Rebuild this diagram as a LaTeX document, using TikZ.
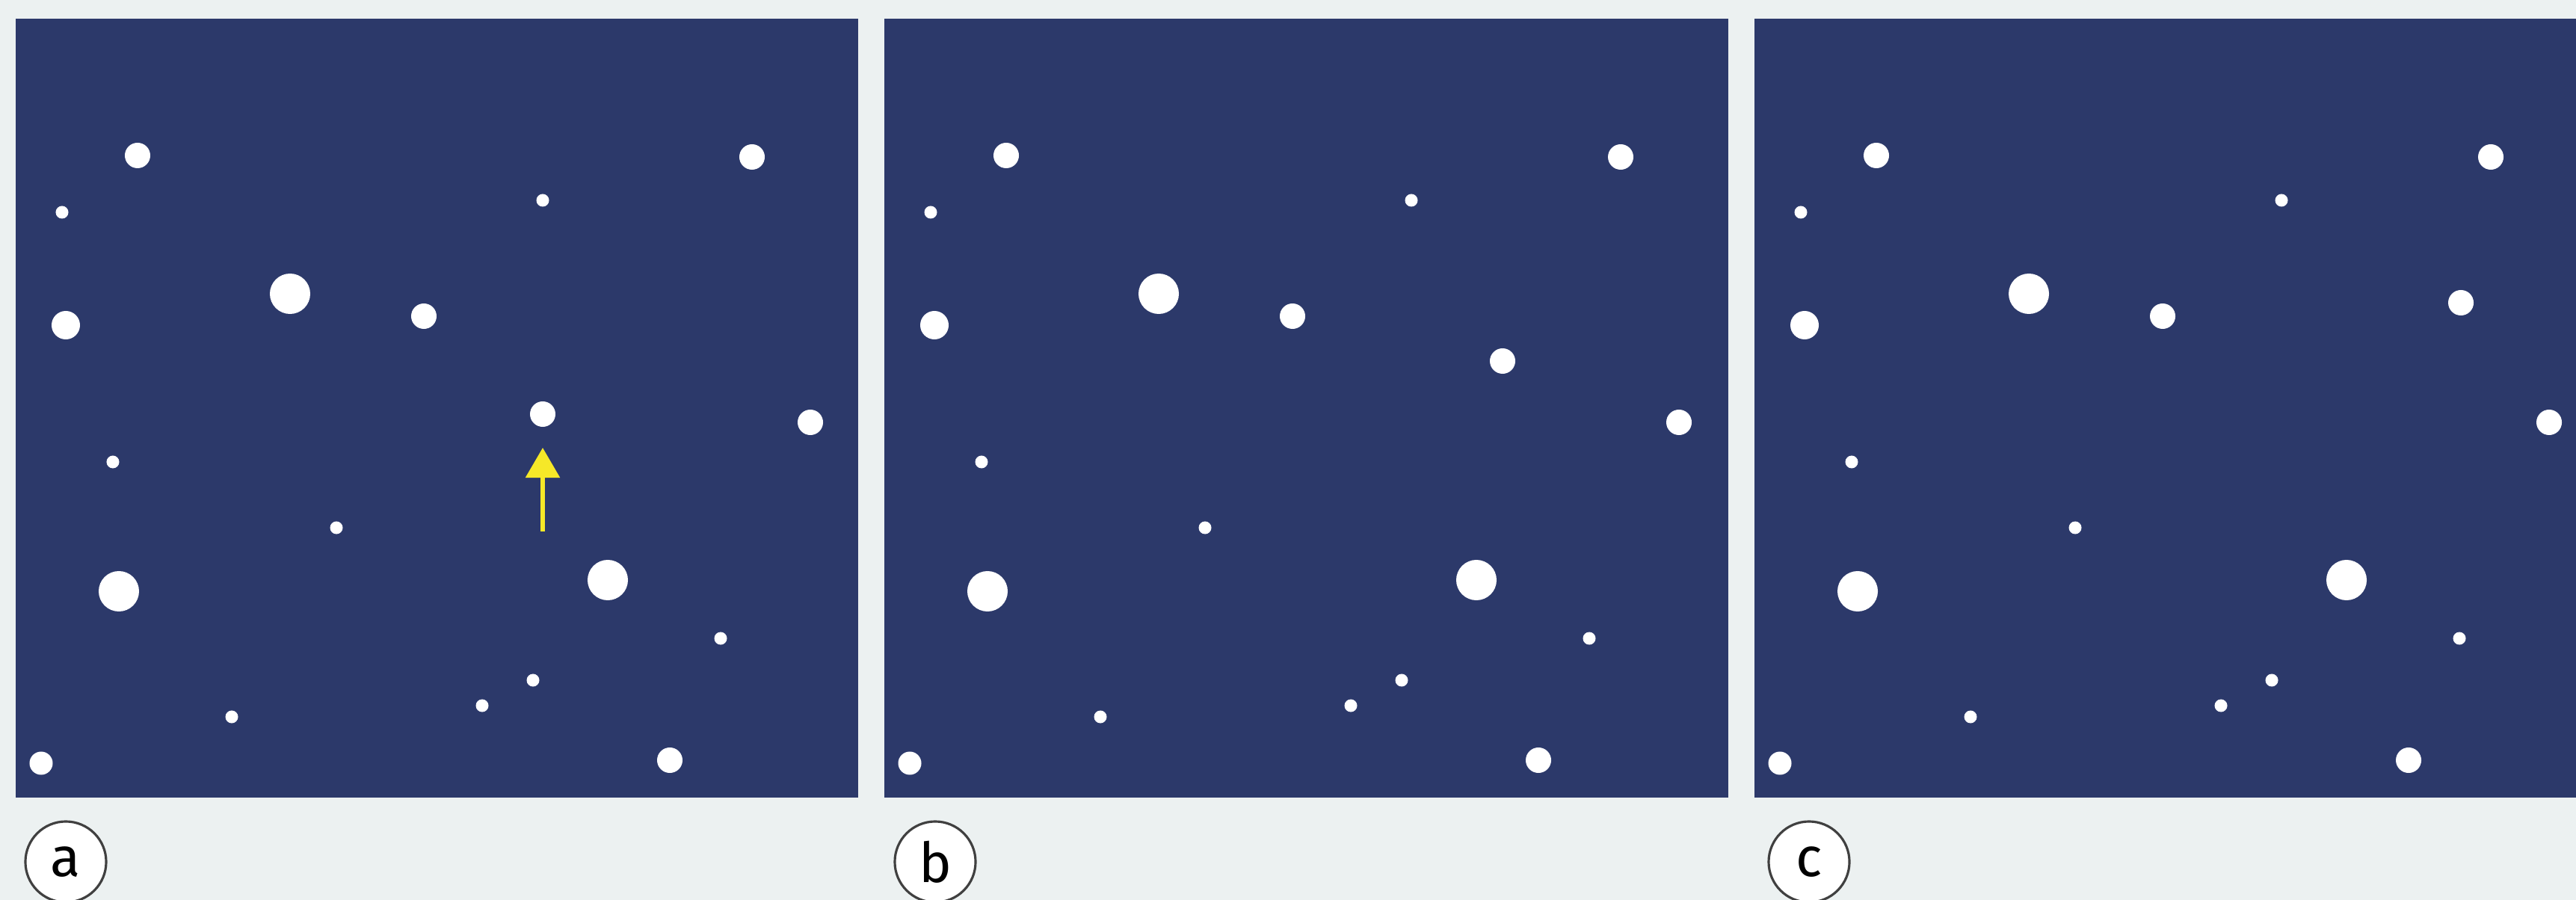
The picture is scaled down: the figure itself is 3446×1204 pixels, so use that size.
\documentclass[tikz,border=0pt]{standalone}
\usepackage{fontspec}
\setsansfont{Fira Sans}
\usetikzlibrary{arrows.meta}

\definecolor{PageGray}{RGB}{236,241,241}
\definecolor{PanelBlue}{RGB}{44,57,106}
\definecolor{ArrowYellow}{RGB}{246,232,40}

\begin{document}
\begin{tikzpicture}[
  x=0.01cm, y=-0.01cm,
  font=\sffamily,
  DotS/.style={circle, fill=white, inner sep=0pt, minimum size=0.17cm},
  DotM/.style={circle, fill=white, inner sep=0pt, minimum size=0.34cm},
  DotL/.style={circle, fill=white, inner sep=0pt, minimum size=0.54cm},
  PanelLabel/.style={circle, draw=black!75, line width=0.9pt, fill=white,
                     minimum size=1.08cm, inner sep=0pt,
                     font=\fontsize{21}{24}\selectfont\sffamily},
  YellowArrow/.style={draw=ArrowYellow, line width=1.6pt,
                      -{Triangle[length=0.4cm, width=0.45cm]}},
  ]
\fill [PageGray] (0,0) rectangle (3446,1204);
\useasboundingbox (0,0) rectangle (3446,1204);

% the three panels
\fill [PanelBlue] (21,25) rectangle (1148,1067);
\fill [PanelBlue] (1183,25) rectangle (2312,1067);
\fill [PanelBlue] (2347,25) rectangle (3446,1067);

% dots that stay put
\foreach \s/\p in {0/a,1162/b,2326/c}{
\begin{scope}[shift={(\s,0)}]
\node [DotS] (\p1) at (83,284) {};
\node [DotS] (\p2) at (726,268) {};
\node [DotS] (\p3) at (151,618) {};
\node [DotS] (\p4) at (450,706) {};
\node [DotS] (\p5) at (964,854) {};
\node [DotS] (\p6) at (713,910) {};
\node [DotS] (\p7) at (645,944) {};
\node [DotS] (\p8) at (310,959) {};
\node [DotM] (\p9) at (184,208) {};
\node [DotM] (\p10) at (1006,210) {};
\node [DotM, minimum size=0.38cm] (\p11) at (88,435) {};
\node [DotM] (\p12) at (567,423) {};
\node [DotM] (\p13) at (1084,565) {};
\node [DotM, minimum size=0.31cm] (\p14) at (55,1021) {};
\node [DotM] (\p15) at (896,1017) {};
\node [DotL] (\p16) at (388,393) {};
\node [DotL] (\p17) at (159,791) {};
\node [DotL] (\p18) at (813,776) {};
\end{scope}
}

% the dot that moves
\node [DotM] (moveA) at (726,554) {};
\node [DotM] (moveB) at (2010,483) {};
\node [DotM] (moveC) at (3292,405) {};

\coordinate (tailA) at (726,711);
\coordinate (tipA) at (726,599);
\draw [YellowArrow] (tailA) -- (tipA);

% labels
\node [PanelLabel] (la) at (88,1153) {a};
\node [PanelLabel] (lb) at (1251,1153) {b};
\node [PanelLabel] (lc) at (2420,1153) {c};
\end{tikzpicture}
\end{document}
